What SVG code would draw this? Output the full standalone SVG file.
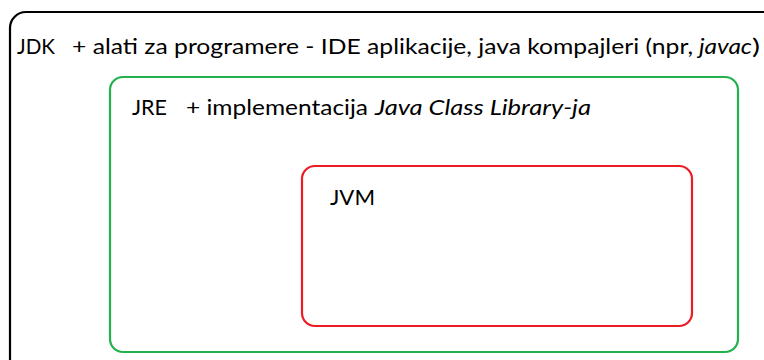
<svg xmlns="http://www.w3.org/2000/svg" width="764" height="360" viewBox="0 0 764 360">
<style>
.box{fill:none;stroke-width:2.2}
.t{font-family:Lato,"Open Sans","Liberation Sans",sans-serif;font-size:22px;fill:#000}
.i{font-style:italic}
</style>
<rect width="764" height="360" fill="#fff"/>
<g id="jdk">
<rect class="box" x="10" y="12" width="770" height="370" rx="16" stroke="#000"/>
<text class="t" x="17" y="54" textLength="38" lengthAdjust="spacingAndGlyphs">JDK</text>
<text class="t" x="72" y="54" textLength="621" lengthAdjust="spacingAndGlyphs">+ alati za programere - IDE aplikacije, java kompajleri (npr,</text>
<text class="t i" x="699" y="54" textLength="53" lengthAdjust="spacingAndGlyphs">javac</text>
<text class="t" x="752" y="54" textLength="8" lengthAdjust="spacingAndGlyphs">)</text>
</g>
<g id="jre">
<rect class="box" x="110" y="77" width="628" height="275" rx="13" stroke="#22b14c"/>
<text class="t" x="132" y="115" textLength="35" lengthAdjust="spacingAndGlyphs">JRE</text>
<text class="t" x="186" y="115" textLength="182" lengthAdjust="spacingAndGlyphs">+ implementacija</text>
<text class="t i" x="375" y="115" textLength="216" lengthAdjust="spacingAndGlyphs">Java Class Library-ja</text>
</g>
<g id="jvm">
<rect class="box" x="302" y="166" width="390" height="160" rx="13" stroke="#ed1c24"/>
<text class="t" x="330" y="205" textLength="45" lengthAdjust="spacingAndGlyphs">JVM</text>
</g>
<g id="connectors"/>
</svg>
